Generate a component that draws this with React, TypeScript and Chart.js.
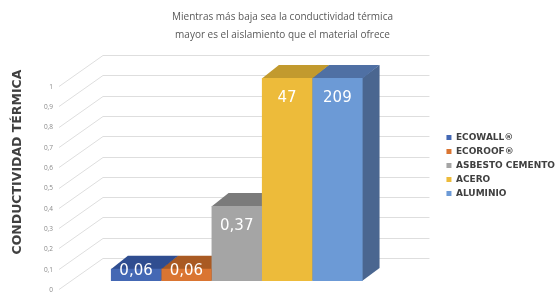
import React, { useEffect, useRef } from "react";
import { Chart, registerables } from "chart.js";

Chart.register(...registerables);

// ---- data ----
const seriesNames = ["ECOWALL®", "ECOROOF®", "ASBESTO CEMENTO", "ACERO", "ALUMINIO"];
const conductivity = [0.06, 0.06, 0.37, 47, 209];
const axisMin = 0;
const axisMax = 1;
const axisStep = 0.1;
const titleLines = [
  "Mientras más baja sea la conductividad térmica",
  "mayor es el aislamiento que el material ofrece",
];
const yAxisTitle = "CONDUCTIVIDAD TÉRMICA";

// ---- styles ----
const frontColors = ["#4468B4", "#DA7532", "#A5A5A5", "#EDBB3A", "#6C9AD6"];
const topColors = ["#2F4D90", "#A95A23", "#7B7B7B", "#C29A2E", "#4F70A4"];
const sideColors = ["#2A447E", "#8E4B1D", "#6A6A6A", "#A8852A", "#4A6690"];
const DEPTH_X = 17;
const DEPTH_Y = 13;
const WALL_X = 45;
const WALL_Y = 23;

const fmt = (v: number) => String(Math.round(v * 100) / 100).replace(".", ",");

const threeD = {
  id: "threeD",
  beforeDatasetsDraw(chart: any) {
    const { ctx, chartArea, scales } = chart;
    const ys = scales.y;
    ctx.save();
    ctx.strokeStyle = "#dedede";
    ctx.lineWidth = 1;
    const n = Math.round((axisMax - axisMin) / axisStep);
    for (let k = 0; k <= n; k++) {
      const v = axisMin + k * axisStep;
      const yf = Math.round(ys.getPixelForValue(v)) + 0.5;
      ctx.beginPath();
      ctx.moveTo(chartArea.left + 1, yf + 8);
      ctx.lineTo(chartArea.left + WALL_X, yf - WALL_Y);
      ctx.lineTo(chartArea.right + 14, yf - WALL_Y);
      ctx.stroke();
    }
    chart.data.datasets.forEach((_ds: any, i: number) => {
      const meta = chart.getDatasetMeta(i);
      meta.data.forEach((bar: any) => {
        const { x, y, base, width } = bar.getProps(["x", "y", "base", "width"], true);
        const L = x - width / 2;
        const R = x + width / 2;
        ctx.fillStyle = sideColors[i];
        ctx.beginPath();
        ctx.moveTo(R - 0.5, y);
        ctx.lineTo(R + DEPTH_X, y - DEPTH_Y);
        ctx.lineTo(R + DEPTH_X, base - DEPTH_Y);
        ctx.lineTo(R - 0.5, base);
        ctx.closePath();
        ctx.fill();
        ctx.fillStyle = topColors[i];
        ctx.beginPath();
        ctx.moveTo(L, y + 0.5);
        ctx.lineTo(L + DEPTH_X, y - DEPTH_Y);
        ctx.lineTo(R + DEPTH_X, y - DEPTH_Y);
        ctx.lineTo(R, y + 0.5);
        ctx.closePath();
        ctx.fill();
      });
    });
    ctx.restore();
  },
  afterDatasetsDraw(chart: any) {
    const { ctx } = chart;
    ctx.save();
    ctx.font = "15px 'DejaVu Sans'";
    ctx.fillStyle = "#ffffff";
    ctx.textAlign = "center";
    ctx.textBaseline = "middle";
    chart.data.datasets.forEach((_ds: any, i: number) => {
      const meta = chart.getDatasetMeta(i);
      meta.data.forEach((bar: any) => {
        const { x, y, base } = bar.getProps(["x", "y", "base"], true);
        const ly = Math.min(y + 20, base - 10);
        ctx.fillText(fmt(conductivity[i]), x, ly);
      });
    });
    ctx.restore();
  },
  afterDraw(chart: any) {
    const { ctx } = chart;
    ctx.save();
    ctx.translate(18, 162);
    ctx.rotate(-Math.PI / 2);
    ctx.font = "bold 12.5px 'DejaVu Sans'";
    ctx.fillStyle = "#404040";
    ctx.textAlign = "center";
    ctx.textBaseline = "middle";
    ctx.fillText(yAxisTitle, 0, 0);
    ctx.restore();
  },
};

export default function App() {
  const ref = useRef<HTMLCanvasElement | null>(null);
  useEffect(() => {
    document.body.style.margin = "0";
    if (!ref.current) return;
    const chart = new Chart(ref.current, {
      type: "bar",
      data: {
        labels: [""],
        datasets: seriesNames.map((name, i) => ({
          label: name,
          data: [Math.min(conductivity[i], axisMax)],
          backgroundColor: frontColors[i],
          borderWidth: 0,
          categoryPercentage: 0.704,
          barPercentage: 1,
        })),
      },
      options: {
        animation: false,
        responsive: false,
        events: [],
        layout: { padding: { bottom: 12, right: -7 } },
        plugins: {
          tooltip: { enabled: false },
          title: {
            display: true,
            text: titleLines,
            color: "#595959",
            font: { family: "'Open Sans'", size: 10, weight: "normal", lineHeight: 1.8 },
            padding: { top: 8, bottom: 34 },
          },
          legend: {
            position: "right",
            maxWidth: 140,
            title: {
              display: true,
              text: " ",
              font: { size: 10, lineHeight: 1.2 },
              padding: { top: 0, bottom: 38 },
            },
            labels: {
              boxWidth: 5,
              boxHeight: 5,
              padding: 5,
              color: "#404040",
              font: { family: "'DejaVu Sans'", size: 9, weight: "bold" },
            },
          },
        },
        scales: {
          x: { display: false },
          y: {
            min: axisMin,
            max: axisMax,
            grid: { display: false, drawTicks: false },
            border: { display: false },
            ticks: {
              stepSize: axisStep,
              padding: 5,
              labelOffset: 9,
              color: "#8a8a8a",
              font: { family: "'Open Sans'", size: 6.5 },
              callback: (v: any) => fmt(Number(v)),
            },
            afterFit: (s: any) => {
              s.width = 58;
            },
          },
          y2: {
            position: "right",
            display: true,
            grid: { display: false },
            border: { display: false },
            ticks: { display: false },
            afterFit: (s: any) => {
              s.width = 26;
            },
          },
        },
      },
      plugins: [threeD],
    } as any);
    return () => chart.destroy();
  }, []);
  return (
    <div style={{ width: 558, height: 293 }}>
      <canvas ref={ref} width={558} height={293} />
    </div>
  );
}
